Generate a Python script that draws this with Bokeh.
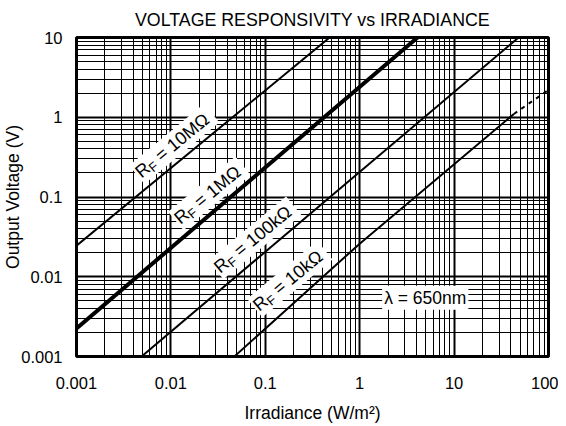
import math
import numpy as np
from bokeh.plotting import figure
from bokeh.models import FixedTicker, CustomJSTickFormatter, ColumnDataSource, Range1d
from bokeh.core.properties import value
from bokeh.embed import file_html
from bokeh.resources import INLINE

# ---- data ----
ticks_x = [0.001, 0.01, 0.1, 1, 10, 100]
tick_labels_x = ["0.001", "0.01", "0.1", "1", "10", "100"]
ticks_y = [0.001, 0.01, 0.1, 1, 10]
tick_labels_y = ["0.001", "0.01", "0.1", "1", "10"]

rf_10M_x = [0.001, 0.48]
rf_10M_y = [0.0245, 10.0]
rf_1M_x = [0.001, 4.1]
rf_1M_y = [0.00225, 10.0]
rf_100k_x = [0.00489, 48.2]
rf_100k_y = [0.001, 10.0]
rf_10k_x = [0.047, 1.0, 43.0]
rf_10k_y = [0.001, 0.026, 1.1]
rf_10k_dash_x = [43.0, 100.0]
rf_10k_dash_y = [1.1, 2.2]

label_values = ["10MΩ", "1MΩ", "100kΩ", "10kΩ"]
label_at_x = [0.0134, 0.0316, 0.097, 0.239]
label_gap_px = [16.5, 16.5, 17.5, 20.5]
wavelength_text = "λ = 650nm"
wavelength_pos = (4.95, 0.00546)

title = "VOLTAGE RESPONSIVITY vs IRRADIANCE"
x_title = "Irradiance (W/m²)"
y_title = "Output Voltage (V)"

FONT = "Liberation Sans"
FW, FH = 472, 319
PX_X = FW / 5.0   # pixels per decade x
PX_Y = FH / 4.0   # pixels per decade y

minor_x = [m * 10.0 ** e for e in range(-3, 2) for m in range(2, 10)]
minor_y = [m * 10.0 ** e for e in range(-3, 1) for m in range(2, 10)]

p = figure(x_axis_type="log", y_axis_type="log",
           x_range=Range1d(0.001, 100), y_range=Range1d(0.001, 10),
           frame_width=FW, frame_height=FH,
           min_border_left=68, min_border_right=10, min_border_top=29, min_border_bottom=62,
           output_backend="svg", toolbar_location=None, title=title)

p.title.text_font = FONT
p.title.text_font_size = "17.8px"
p.title.text_font_style = "normal"
p.title.align = "center"
p.title.text_color = "black"
p.title.standoff = 15

p.outline_line_color = "black"
p.outline_line_width = 3
p.outline_line_alpha = 1

fmt_code = """
const i = tvals.findIndex(t => Math.abs(Math.log10(t) - Math.log10(tick)) < 1e-6);
return i >= 0 ? tlabels[i] : "";
"""
p.xaxis.ticker = FixedTicker(ticks=ticks_x, minor_ticks=minor_x)
p.yaxis.ticker = FixedTicker(ticks=ticks_y, minor_ticks=minor_y)
p.xaxis.formatter = CustomJSTickFormatter(args=dict(tvals=ticks_x, tlabels=tick_labels_x), code=fmt_code)
p.yaxis.formatter = CustomJSTickFormatter(args=dict(tvals=ticks_y, tlabels=tick_labels_y), code=fmt_code)
p.xgrid.ticker = p.xaxis.ticker
p.ygrid.ticker = p.yaxis.ticker

for ax in (p.xaxis, p.yaxis):
    ax.axis_line_color = None
    ax.major_tick_line_color = None
    ax.minor_tick_line_color = None
    ax.major_label_text_font = FONT
    ax.major_label_text_font_size = "16.5px"
    ax.major_label_text_color = "black"
    ax.axis_label_text_font = FONT
    ax.axis_label_text_font_size = "17.5px"
    ax.axis_label_text_font_style = "normal"
    ax.axis_label_text_color = "black"

p.xaxis.axis_label = x_title
p.yaxis.axis_label = y_title
p.xaxis.major_label_standoff = 14
p.yaxis.major_label_standoff = 8
p.xaxis.axis_label_standoff = 11
p.yaxis.axis_label_standoff = -5

for g in (p.xgrid, p.ygrid):
    g.grid_line_color = "black"
    g.grid_line_width = 2
    g.grid_line_alpha = 1
    g.minor_grid_line_color = "black"
    g.minor_grid_line_width = 1
    g.minor_grid_line_alpha = 1

# ---- lines ----
p.line(rf_10M_x, rf_10M_y, line_color="black", line_width=2)
p.line(rf_1M_x, rf_1M_y, line_color="black", line_width=4)
p.line(rf_100k_x, rf_100k_y, line_color="black", line_width=2)
p.line(rf_10k_x, rf_10k_y, line_color="black", line_width=2)
p.line(rf_10k_dash_x, rf_10k_dash_y, line_color="black", line_width=2, line_dash="4 5")

# ---- rotated labels with subscript ----
series_x = [rf_10M_x, rf_1M_x, rf_100k_x, rf_10k_x]
series_y = [rf_10M_y, rf_1M_y, rf_100k_y, rf_10k_y]
ang = math.radians(39.5)
ca, sa = math.cos(ang), math.sin(ang)
BIG, SMALL = 18, 13
w_R = 0.722 * BIG
w_F = 0.611 * SMALL
w_sp = 0.278 * BIG

def place(xf, yf, s, v):
    # s: along-text px, v: perpendicular px (up-left positive); returns data coords
    dx = s * ca - v * sa
    dy_up = s * sa + v * ca
    return xf * 10 ** (dx / PX_X), yf * 10 ** (dy_up / PX_Y)

big = dict(x=[], y=[], text=[])
small = dict(x=[], y=[], text=[])
bg = dict(x=[], y=[], text=[])
for val, lx, v0, sx, sy in zip(label_values, label_at_x, label_gap_px, series_x, series_y):
    ly = 10 ** np.interp(math.log10(lx), np.log10(sx), np.log10(sy))
    rest = "= " + val
    w_rest = (0.584 + 0.278 + sum(0.833 if c == "M" else 0.768 if c == "Ω" else 0.5 if c == "k" else 0.556 for c in val)) * BIG
    total = w_R + w_F + w_sp + w_rest
    s0 = -total / 2
    x, y = place(lx, ly, s0, v0); big["x"].append(x); big["y"].append(y); big["text"].append("R")
    x, y = place(lx, ly, s0 + w_R, v0 - 4.5); small["x"].append(x); small["y"].append(y); small["text"].append("F")
    x, y = place(lx, ly, s0 + w_R + w_F + w_sp, v0); big["x"].append(x); big["y"].append(y); big["text"].append(rest)
    x, y = place(lx, ly, s0 - 1, v0); bg["x"].append(x); bg["y"].append(y); bg["text"].append("RF " + rest)

p.text(x="x", y="y", text="text", source=ColumnDataSource(bg), angle=ang,
       text_font=value(FONT), text_font_size=f"{BIG}px", text_alpha=0,
       text_align="left", text_baseline="alphabetic",
       background_fill_color="white", background_fill_alpha=1, padding=2)
p.text(x="x", y="y", text="text", source=ColumnDataSource(big), angle=ang,
       text_font=value(FONT), text_font_size=f"{BIG}px", text_color="black",
       text_align="left", text_baseline="alphabetic")
p.text(x="x", y="y", text="text", source=ColumnDataSource(small), angle=ang,
       text_font=value(FONT), text_font_size=f"{SMALL}px", text_color="black",
       text_align="left", text_baseline="alphabetic")

p.text(x=[wavelength_pos[0]], y=[wavelength_pos[1]], text=[wavelength_text],
       text_font=value(FONT), text_font_size="17.5px", text_color="black",
       text_align="center", text_baseline="middle",
       background_fill_color="white", background_fill_alpha=1, padding=2)

open("out.html", "w").write(file_html(p, INLINE))
